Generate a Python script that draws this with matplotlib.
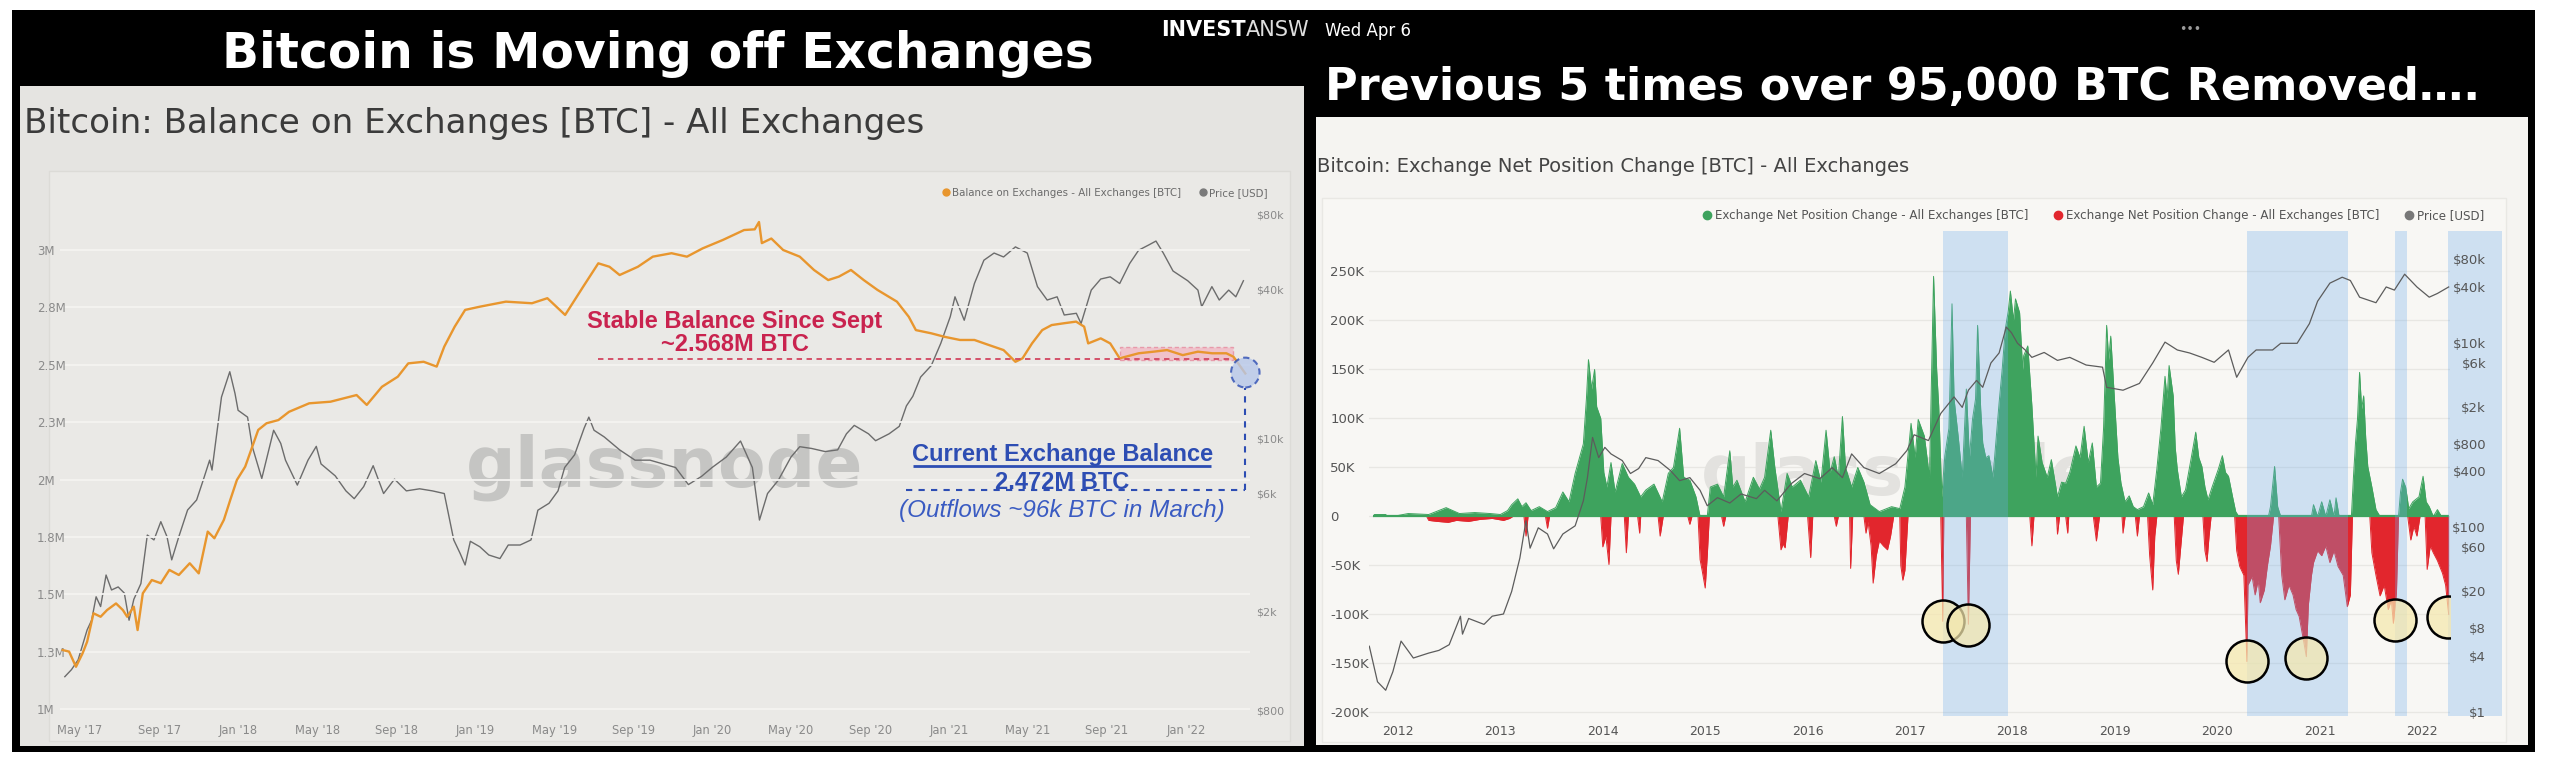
import numpy as np
import matplotlib.pyplot as plt
from matplotlib.patches import Rectangle, Ellipse
from matplotlib.lines import Line2D

# ---------------- left chart: balance on exchanges (M BTC) + price (USD), x = decimal year
balance = [
    (2017.26, 1.257), (2017.287, 1.250), (2017.316, 1.184), (2017.344, 1.243), (2017.363, 1.293),
    (2017.39, 1.417), (2017.42, 1.402), (2017.447, 1.431), (2017.485, 1.46), (2017.514, 1.431),
    (2017.532, 1.402), (2017.56, 1.446), (2017.576, 1.344), (2017.598, 1.504), (2017.636, 1.562),
    (2017.674, 1.548), (2017.71, 1.606), (2017.75, 1.584), (2017.796, 1.635), (2017.834, 1.591),
    (2017.872, 1.773), (2017.9, 1.744), (2017.94, 1.824), (2017.967, 1.911), (2017.995, 1.998),
    (2018.03, 2.056), (2018.04, 2.085), (2018.085, 2.216), (2018.12, 2.245), (2018.17, 2.259),
    (2018.215, 2.295), (2018.30, 2.332), (2018.39, 2.339), (2018.50, 2.368), (2018.543, 2.325),
    (2018.607, 2.404), (2018.674, 2.448), (2018.718, 2.506), (2018.783, 2.513), (2018.838, 2.492),
    (2018.87, 2.579), (2018.914, 2.666), (2018.958, 2.739), (2019.02, 2.753), (2019.13, 2.775),
    (2019.24, 2.768), (2019.305, 2.790), (2019.38, 2.717), (2019.456, 2.840), (2019.52, 2.942),
    (2019.567, 2.927), (2019.61, 2.891), (2019.687, 2.927), (2019.75, 2.971), (2019.829, 2.986),
    (2019.894, 2.971), (2019.96, 3.007), (2020.046, 3.044), (2020.135, 3.087), (2020.18, 3.09),
    (2020.198, 3.122), (2020.21, 3.03), (2020.25, 3.05), (2020.30, 3.0), (2020.37, 2.971),
    (2020.43, 2.913), (2020.49, 2.869), (2020.535, 2.884), (2020.586, 2.913), (2020.64, 2.869),
    (2020.698, 2.826), (2020.78, 2.775), (2020.83, 2.709), (2020.86, 2.651), (2020.925, 2.637),
    (2020.98, 2.622), (2021.046, 2.608), (2021.107, 2.608), (2021.168, 2.586), (2021.23, 2.564),
    (2021.28, 2.513), (2021.31, 2.528), (2021.35, 2.593), (2021.393, 2.651), (2021.433, 2.673),
    (2021.486, 2.681), (2021.536, 2.688), (2021.57, 2.666), (2021.587, 2.593), (2021.64, 2.615),
    (2021.68, 2.593), (2021.72, 2.528), (2021.80, 2.550), (2021.863, 2.557), (2021.92, 2.564),
    (2021.986, 2.542), (2022.05, 2.557), (2022.11, 2.550), (2022.17, 2.550), (2022.20, 2.535),
    (2022.22, 2.506), (2022.25, 2.462),
]

price_left = [
    (2017.269, 1095), (2017.297, 1169), (2017.325, 1280), (2017.363, 1690), (2017.382, 1850),
    (2017.401, 2300), (2017.42, 2100), (2017.443, 2815), (2017.466, 2450), (2017.494, 2520),
    (2017.52, 2380), (2017.54, 1850), (2017.56, 2245), (2017.59, 2600), (2017.617, 4080),
    (2017.645, 3900), (2017.674, 4620), (2017.70, 4020), (2017.72, 3240), (2017.75, 4020),
    (2017.787, 5150), (2017.825, 5650), (2017.853, 6800), (2017.88, 8180), (2017.89, 7460),
    (2017.93, 14700), (2017.965, 18600), (2017.987, 15200), (2018.0, 13000), (2018.04, 12200),
    (2018.06, 9270), (2018.10, 6900), (2018.15, 10800), (2018.18, 9560), (2018.20, 8180),
    (2018.25, 6490), (2018.295, 8180), (2018.33, 9300), (2018.35, 7900), (2018.41, 7070),
    (2018.455, 6150), (2018.49, 5720), (2018.53, 6400), (2018.57, 7770), (2018.614, 6000),
    (2018.66, 6860), (2018.71, 6150), (2018.766, 6270), (2018.82, 6150), (2018.87, 6000),
    (2018.89, 4830), (2018.91, 3900), (2018.937, 3440), (2018.958, 3090), (2018.98, 3850),
    (2019.02, 3660), (2019.058, 3390), (2019.105, 3280), (2019.14, 3720), (2019.19, 3720),
    (2019.236, 3900), (2019.265, 5140), (2019.312, 5480), (2019.35, 6150), (2019.378, 7640),
    (2019.42, 8600), (2019.46, 11000), (2019.48, 12200), (2019.502, 10800), (2019.545, 10150),
    (2019.61, 9000), (2019.675, 8180), (2019.738, 8180), (2019.846, 7640), (2019.9, 6520),
    (2019.955, 7030), (2020.0, 7640), (2020.06, 8420), (2020.12, 9770), (2020.17, 7640),
    (2020.2, 4690), (2020.234, 6000), (2020.28, 6800), (2020.333, 8420), (2020.37, 9270),
    (2020.42, 9120), (2020.477, 8860), (2020.53, 9000), (2020.567, 10450), (2020.6, 11300),
    (2020.66, 10450), (2020.69, 9800), (2020.747, 10450), (2020.79, 11200), (2020.82, 13540),
    (2020.847, 14800), (2020.88, 17700), (2020.925, 19700), (2020.965, 24200), (2021.005, 31000),
    (2021.025, 37300), (2021.064, 30000), (2021.107, 42200), (2021.147, 52400), (2021.19, 56000),
    (2021.23, 54000), (2021.28, 59300), (2021.33, 56000), (2021.373, 41000), (2021.414, 36200),
    (2021.456, 37300), (2021.486, 31500), (2021.537, 32000), (2021.557, 29100), (2021.6, 39700),
    (2021.64, 44000), (2021.68, 44900), (2021.72, 42200), (2021.762, 50800), (2021.80, 57500),
    (2021.843, 60400), (2021.873, 62600), (2021.904, 56000), (2021.945, 47400), (2022.007, 43300),
    (2022.05, 39700), (2022.066, 34000), (2022.109, 41000), (2022.14, 36200), (2022.18, 39700),
    (2022.21, 37300), (2022.242, 43300),
]

left_xticks = [2017 + 4 / 12 + i / 3 for i in range(15)]
left_xlabels = ["May '17", "Sep '17", "Jan '18", "May '18", "Sep '18", "Jan '19", "May '19",
                "Sep '19", "Jan '20", "May '20", "Sep '20", "Jan '21", "May '21", "Sep '21", "Jan '22"]
left_yticks = [1.0, 1.25, 1.5, 1.75, 2.0, 2.25, 2.5, 2.75, 3.0]
left_ylabels = ['1M', '1.3M', '1.5M', '1.8M', '2M', '2.3M', '2.5M', '2.8M', '3M']
left_ptick = [800, 2000, 6000, 10000, 40000, 80000]
left_plabel = ['$800', '$2k', '$6k', '$10k', '$40k', '$80k']

stable_level = 2.525          # where the dashed "stable" line sits
stable_start, stable_box = 2019.52, (2021.72, 2022.20, 2.521, 2.577)

# ---------------- right chart: exchange net position change (K BTC) + price (USD)
inflow = [
    (2011.76, 0), (2011.77, 2), (2011.88, 2), (2011.9, 0), (2012.0, 1), (2012.1, 3), (2012.3, 2),
    (2012.47, 9), (2012.6, 3), (2012.75, 4), (2012.9, 3), (2013.0, 2), (2013.07, 6), (2013.11, 12),
    (2013.17, 18), (2013.21, 10), (2013.25, 14), (2013.30, 6), (2013.38, 10), (2013.46, 5),
    (2013.54, 9), (2013.61, 25), (2013.67, 15), (2013.73, 44), (2013.81, 74), (2013.84, 120),
    (2013.86, 160), (2013.89, 130), (2013.92, 150), (2013.94, 112), (2013.98, 100), (2014.01, 45),
    (2014.04, 30), (2014.08, 55), (2014.12, 25), (2014.19, 54), (2014.25, 40), (2014.31, 33),
    (2014.37, 20), (2014.42, 27), (2014.50, 33), (2014.58, 15), (2014.64, 44), (2014.69, 50),
    (2014.75, 90), (2014.79, 40), (2014.85, 37), (2014.91, 20), (2014.95, 0), (2015.02, 0),
    (2015.05, 30), (2015.12, 33), (2015.18, 20), (2015.24, 67), (2015.27, 30), (2015.31, 37),
    (2015.39, 15), (2015.47, 40), (2015.53, 28), (2015.58, 40), (2015.64, 88), (2015.68, 50),
    (2015.74, 5), (2015.80, 44), (2015.85, 30), (2015.93, 37), (2016.01, 20), (2016.08, 57),
    (2016.13, 35), (2016.18, 88), (2016.22, 45), (2016.26, 61), (2016.30, 40), (2016.34, 102),
    (2016.37, 50), (2016.43, 30), (2016.49, 50), (2016.55, 35), (2016.61, 12), (2016.70, 5),
    (2016.82, 10), (2016.90, 8), (2016.95, 30), (2017.01, 95), (2017.05, 60), (2017.08, 99),
    (2017.14, 82), (2017.19, 40), (2017.23, 245), (2017.26, 150), (2017.28, 113), (2017.31, 20),
    (2017.34, 62), (2017.38, 90), (2017.41, 217), (2017.43, 120), (2017.47, 82), (2017.51, 40),
    (2017.55, 130), (2017.58, 60), (2017.61, 99), (2017.64, 120), (2017.66, 195), (2017.69, 110),
    (2017.71, 75), (2017.74, 60), (2017.77, 62), (2017.81, 40), (2017.87, 116), (2017.90, 150),
    (2017.93, 191), (2017.96, 210), (2017.98, 230), (2018.01, 200), (2018.03, 222), (2018.07, 208),
    (2018.10, 150), (2018.11, 164), (2018.15, 174), (2018.19, 113), (2018.23, 40), (2018.25, 82),
    (2018.29, 55), (2018.34, 40), (2018.38, 58), (2018.44, 20), (2018.48, 35), (2018.52, 34),
    (2018.56, 45), (2018.62, 72), (2018.66, 60), (2018.70, 92), (2018.74, 55), (2018.78, 75),
    (2018.82, 30), (2018.86, 34), (2018.89, 90), (2018.92, 195), (2018.94, 160), (2018.96, 184),
    (2019.00, 113), (2019.03, 60), (2019.06, 34), (2019.10, 15), (2019.14, 21), (2019.18, 10),
    (2019.22, 7), (2019.28, 10), (2019.33, 24), (2019.37, 12), (2019.41, 48), (2019.45, 90),
    (2019.49, 143), (2019.51, 120), (2019.53, 154), (2019.57, 123), (2019.59, 70), (2019.61, 48),
    (2019.65, 20), (2019.69, 27), (2019.73, 50), (2019.75, 62), (2019.79, 86), (2019.82, 60),
    (2019.85, 51), (2019.88, 30), (2019.91, 17), (2019.95, 30), (2020.01, 48), (2020.05, 62),
    (2020.08, 45), (2020.11, 41), (2020.15, 20), (2020.18, 5), (2020.21, 0), (2020.50, 0),
    (2020.52, 10), (2020.56, 51), (2020.59, 10), (2020.62, 0), (2020.92, 0), (2020.94, 12),
    (2020.98, 0), (2021.02, 15), (2021.06, 0), (2021.10, 17), (2021.14, 0), (2021.16, 19),
    (2021.19, 0), (2021.31, 0), (2021.33, 40), (2021.35, 75), (2021.37, 100), (2021.39, 147),
    (2021.41, 110), (2021.43, 123), (2021.45, 80), (2021.47, 51), (2021.51, 30), (2021.55, 7),
    (2021.59, 0), (2021.77, 0), (2021.79, 25), (2021.81, 38), (2021.84, 30), (2021.87, 8),
    (2021.91, 15), (2021.97, 20), (2022.01, 41), (2022.04, 15), (2022.07, 10), (2022.11, 0),
    (2022.15, 7), (2022.19, 0), (2022.26, 0),
]

outflow = [
    (2012.28, 0), (2012.30, -4), (2012.38, -5), (2012.49, -6), (2012.57, -4), (2012.69, -5),
    (2012.80, -3), (2012.92, -2), (2013.03, -4), (2013.09, -2), (2013.12, 0), (2013.23, 0),
    (2013.25, -20), (2013.27, 0), (2013.44, 0), (2013.46, -12), (2013.48, 0), (2013.98, 0),
    (2014.00, -31), (2014.03, -20), (2014.06, -49), (2014.08, 0), (2014.21, 0), (2014.23, -37),
    (2014.25, 0), (2014.34, 0), (2014.36, -17), (2014.37, 0), (2014.54, 0), (2014.56, -20),
    (2014.59, 0), (2014.83, 0), (2014.85, -8), (2014.87, 0), (2014.93, 0), (2014.95, -44),
    (2014.97, -55), (2015.00, -73), (2015.02, -40), (2015.04, 0), (2015.16, 0), (2015.18, -10),
    (2015.20, 0), (2015.71, 0), (2015.74, -34), (2015.76, -28), (2015.78, -32), (2015.81, 0),
    (2016.00, 0), (2016.03, -42), (2016.05, 0), (2016.26, 0), (2016.28, -10), (2016.30, 0),
    (2016.41, 0), (2016.42, -53), (2016.44, 0), (2016.55, 0), (2016.57, -17), (2016.59, -5),
    (2016.62, -30), (2016.64, -68), (2016.67, -40), (2016.70, -25), (2016.74, -30), (2016.78, -34),
    (2016.81, -20), (2016.84, 0), (2016.90, 0), (2016.91, -50), (2016.93, -65), (2016.95, -55),
    (2016.98, 0), (2017.30, 0), (2017.32, -107), (2017.33, 0), (2017.55, 0), (2017.57, -110),
    (2017.59, 0), (2018.17, 0), (2018.19, -30), (2018.21, 0), (2018.43, 0), (2018.44, -18),
    (2018.46, 0), (2018.52, 0), (2018.54, -17), (2018.55, 0), (2018.79, 0), (2018.82, -25),
    (2018.85, 0), (2019.07, 0), (2019.08, -17), (2019.10, 0), (2019.20, 0), (2019.22, -20),
    (2019.24, 0), (2019.32, 0), (2019.34, -40), (2019.37, -75), (2019.39, -20), (2019.41, 0),
    (2019.58, 0), (2019.60, -45), (2019.62, -59), (2019.64, -35), (2019.67, 0), (2019.86, 0),
    (2019.88, -35), (2019.90, -46), (2019.92, -20), (2019.94, 0), (2020.17, 0), (2020.19, -35),
    (2020.22, -51), (2020.26, -60), (2020.29, -148), (2020.30, -70), (2020.34, -61), (2020.37, -80),
    (2020.40, -65), (2020.42, -88), (2020.46, -75), (2020.49, -50), (2020.52, -30), (2020.55, 0),
    (2020.60, 0), (2020.63, -60), (2020.66, -85), (2020.70, -70), (2020.74, -80), (2020.77, -95),
    (2020.80, -102), (2020.84, -125), (2020.87, -143), (2020.89, -90), (2020.92, -60), (2020.94, -47),
    (2020.98, -35), (2021.02, -40), (2021.06, -30), (2021.10, -47), (2021.14, -35), (2021.18, -51),
    (2021.23, -60), (2021.27, -92), (2021.30, -80), (2021.32, 0), (2021.49, 0), (2021.51, -37),
    (2021.55, -60), (2021.59, -81), (2021.63, -70), (2021.67, -95), (2021.70, -85), (2021.72, -109),
    (2021.75, -78), (2021.77, 0), (2021.86, 0), (2021.89, -24), (2021.92, -10), (2021.95, -20),
    (2021.98, 0), (2022.03, 0), (2022.05, -54), (2022.08, -30), (2022.11, -37), (2022.15, -45),
    (2022.20, -58), (2022.23, -70), (2022.26, -100),
]

price_right = [
    (2011.72, 5.1), (2011.80, 2.1), (2011.88, 1.7), (2011.95, 2.7), (2012.03, 5.8), (2012.09, 4.7),
    (2012.15, 3.8), (2012.3, 4.3), (2012.4, 4.6), (2012.5, 5.3), (2012.61, 10.8), (2012.63, 6.9),
    (2012.69, 10.2), (2012.84, 8.8), (2012.92, 10.8), (2013.03, 11.4), (2013.11, 20), (2013.19, 46),
    (2013.25, 117), (2013.29, 59), (2013.37, 98), (2013.46, 84), (2013.52, 58), (2013.61, 84),
    (2013.73, 103), (2013.81, 192), (2013.85, 343), (2013.90, 935), (2013.96, 565), (2014.02, 730),
    (2014.08, 620), (2014.19, 525), (2014.27, 380), (2014.35, 430), (2014.42, 565), (2014.54, 525),
    (2014.66, 410), (2014.75, 318), (2014.85, 343), (2014.95, 250), (2015.02, 170), (2015.12, 208),
    (2015.24, 182), (2015.35, 228), (2015.50, 203), (2015.58, 250), (2015.70, 192), (2015.84, 295),
    (2015.97, 380), (2016.12, 334), (2016.24, 440), (2016.34, 343), (2016.43, 620), (2016.55, 440),
    (2016.70, 380), (2016.86, 485), (2016.97, 675), (2017.04, 1000), (2017.18, 865), (2017.30, 1700),
    (2017.43, 2570), (2017.51, 1980), (2017.57, 3040), (2017.65, 3880), (2017.71, 3270),
    (2017.79, 6000), (2017.87, 7700), (2017.94, 14700), (2017.99, 12800), (2018.05, 9800),
    (2018.13, 8200), (2018.19, 6900), (2018.31, 7800), (2018.44, 6400), (2018.56, 6900),
    (2018.72, 5700), (2018.88, 5400), (2018.92, 3270), (2019.08, 3040), (2019.24, 3600),
    (2019.37, 6000), (2019.49, 10100), (2019.61, 8300), (2019.73, 7700), (2019.85, 6900),
    (2019.97, 6100), (2020.11, 8300), (2020.19, 4200), (2020.30, 6900), (2020.38, 8300),
    (2020.54, 8300), (2020.62, 9800), (2020.78, 9800), (2020.90, 16000), (2020.98, 28000),
    (2021.10, 44000), (2021.22, 51000), (2021.30, 47000), (2021.39, 31000), (2021.55, 27000),
    (2021.65, 40000), (2021.73, 37000), (2021.83, 55000), (2021.95, 40000), (2022.07, 31000),
    (2022.15, 34000), (2022.26, 40000),
]

# big outflow events that are ringed on the chart
circle_t = [2017.32, 2017.57, 2020.29, 2020.87, 2021.74, 2022.25]
circle_k = [-107, -111, -147, -144, -106, -103]
band_start = [2017.32, 2020.29, 2021.74, 2022.25]
band_end = [2017.96, 2021.28, 2021.85, 2022.78]

right_years = list(range(2012, 2023))
right_yticks = [-200, -150, -100, -50, 0, 50, 100, 150, 200, 250]
right_ylabels = ['-200K', '-150K', '-100K', '-50K', '0', '50K', '100K', '150K', '200K', '250K']
right_ptick = [1, 4, 8, 20, 60, 100, 400, 800, 2000, 6000, 10000, 40000, 80000]
right_plabel = ['$1', '$4', '$8', '$20', '$60', '$100', '$400', '$800', '$2k', '$6k',
                '$10k', '$40k', '$80k']

ORANGE, GREY = '#e8962e', '#6c6c6c'
GREEN, RED = '#3ea35e', '#e2262d'
CRIMSON, BLUE = '#c9234f', '#2d4db3'

W, H, DPI = 2549, 766, 100
fig = plt.figure(figsize=(W / DPI, H / DPI), dpi=DPI, facecolor='white')


def box(x0, y0, x1, y1):
    # pixel box (top-left origin) -> figure fraction rect
    return [x0 / W, 1 - y1 / H, (x1 - x0) / W, (y1 - y0) / H]


def panel(x0, y0, x1, y1, fc, z, ec='none'):
    fig.add_artist(Rectangle((x0 / W, 1 - y1 / H), (x1 - x0) / W, (y1 - y0) / H,
                             transform=fig.transFigure, facecolor=fc, edgecolor=ec,
                             lw=1, zorder=z))


# backgrounds
panel(12, 10, 1312, 752, 'black', -10)
panel(20, 86, 1304, 746, '#e5e4e1', -9)
panel(49, 171, 1290, 741, '#eae9e6', -8, ec='#dcdbd7')
fig.text(1161 / W, 1 - 36 / H, 'INVEST', color='white', fontsize=15, fontweight='bold',
         va='baseline', zorder=-7)
fig.text(1246 / W, 1 - 36 / H, 'ANSW', color='#dedede', fontsize=15, va='baseline', zorder=-7)
panel(1308, 10, 2535, 752, 'black', -6)
panel(1316, 117, 2528, 745, '#f5f4f1', -5)
panel(1322, 198, 2506, 742, '#f8f7f4', -4, ec='#e9e8e4')

fig.text(658 / W, 1 - 68 / H, 'Bitcoin is Moving off Exchanges', color='white', fontsize=35,
         fontweight='bold', ha='center', va='baseline')
fig.text(1325 / W, 1 - 100 / H, 'Previous 5 times over 95,000 BTC Removed\u2026.', color='white',
         fontsize=32, fontweight='bold', ha='left', va='baseline')
fig.text(1325 / W, 1 - 36 / H, 'Wed Apr 6', color='white', fontsize=12, va='baseline')
fig.text(2190 / W, 1 - 30 / H, '\u2022\u2022\u2022', color='#9a9a9a', fontsize=9,
         ha='center', va='center')
fig.text(24 / W, 1 - 133 / H, 'Bitcoin: Balance on Exchanges [BTC] - All Exchanges',
         color='#3b3b3b', fontsize=24.6, va='baseline')
fig.text(1317 / W, 1 - 172 / H, 'Bitcoin: Exchange Net Position Change [BTC] - All Exchanges',
         color='#444444', fontsize=14, va='baseline')

# ---------------- left chart
bt, bv = np.array(balance).T
plt_t, plt_v = np.array(price_left).T

ax1 = fig.add_axes(box(60, 200, 1250, 718))
ax1b = ax1.twinx()
ax1.set_zorder(ax1b.get_zorder() + 1)
for a in (ax1, ax1b):
    a.patch.set_visible(False)
    for s in a.spines.values():
        s.set_visible(False)

ax1.set_xlim(2017.2486, 2022.2698)
ax1.set_ylim(0.9608, 3.2179)
ax1b.set_yscale('log')
ax1b.set_ylim(746, 91660)

ax1b.text(0.508, 0.485, 'glassnode', transform=ax1b.transAxes, fontsize=50, fontweight='bold',
          color='#c5c5c3', ha='center', va='center', zorder=0)
ax1b.plot(plt_t, plt_v, color=GREY, lw=1.0, zorder=2)
ax1.plot(bt, bv, color=ORANGE, lw=1.7, zorder=3)

ax1.set_xticks(left_xticks)
ax1.set_xticklabels(left_xlabels)
ax1.set_yticks(left_yticks)
ax1.set_yticklabels(left_ylabels)
ax1.tick_params(axis='x', length=0, pad=4.5, labelsize=8.3, labelcolor='#8a8a8a')
ax1.tick_params(axis='y', length=0, pad=16.5, labelsize=8.5, labelcolor='#8a8a8a')
for lab in ax1.get_yticklabels():
    lab.set_ha('left')
ax1.grid(axis='y', color='#f4f3f1', lw=1.3)
ax1.set_axisbelow(True)
ax1b.yaxis.set_major_locator(plt.FixedLocator(left_ptick))
ax1b.yaxis.set_minor_locator(plt.NullLocator())
ax1b.set_yticklabels(left_plabel)
ax1b.tick_params(axis='y', length=0, pad=4.3, labelsize=8, labelcolor='#8a8a8a')

# stable balance annotation
x0b, x1b, y0b, y1b = stable_box
ax1.add_patch(Rectangle((x0b, y0b), x1b - x0b, y1b - y0b, facecolor='#f3b6c2', alpha=0.75,
                        edgecolor='#e5879b', lw=1, ls=(0, (3, 2)), zorder=2))
ax1.hlines(stable_level, stable_start, x1b, colors='#d2455f', lw=1.3, linestyles=(0, (3, 2.5)),
           zorder=4)
ax1.text(2020.097, 2.658, 'Stable Balance Since Sept', color=CRIMSON, fontsize=17,
         fontweight='bold', family=['Liberation Sans', 'DejaVu Sans'], ha='center', va='baseline')
ax1.text(2020.097, 2.558, '~2.568M BTC', color=CRIMSON, fontsize=17, fontweight='bold',
         family=['Liberation Sans', 'DejaVu Sans'], ha='center', va='baseline')

# current balance annotation
end_t, end_v = bt[-1], bv[-1]
ax1.add_patch(Ellipse((end_t, end_v + 0.004), 0.12, 0.13, facecolor='#b7c8ea', alpha=0.8,
                      edgecolor=BLUE, lw=1.5, ls=(0, (3, 2)), zorder=5, clip_on=False))
ax1.vlines(end_t, 1.954, end_v - 0.063, colors=BLUE, lw=1.5, linestyles=(0, (3, 3)), zorder=4)
ax1.hlines(1.954, 2020.818, end_t, colors=BLUE, lw=1.5, linestyles=(0, (3, 3)), zorder=4)
ax1.text(2021.477, 2.0794, 'Current Exchange Balance', color=BLUE, fontsize=17,
         fontweight='bold', family=['Liberation Sans', 'DejaVu Sans'], ha='center', va='baseline')
ax1.hlines(2.059, 2020.848, 2022.106, colors=BLUE, lw=2, zorder=4)
ax1.text(2021.477, 1.9608, '2.472M BTC', color=BLUE, fontsize=17, fontweight='bold',
         family=['Liberation Sans', 'DejaVu Sans'], ha='center', va='baseline')
ax1.text(2021.477, 1.838, '(Outflows ~96k BTC in March)', color='#3a5bc2', fontsize=17.5,
         style='italic', family=['Liberation Sans', 'DejaVu Sans'], ha='center', va='baseline')

h1 = [Line2D([], [], marker='o', ls='none', color=ORANGE, markersize=5,
             label='Balance on Exchanges - All Exchanges [BTC]'),
      Line2D([], [], marker='o', ls='none', color='#7a7a7a', markersize=5, label='Price [USD]')]
ax1.legend(handles=h1, loc='lower right', bbox_to_anchor=(1.015, 1.004), ncol=2, frameon=False,
           fontsize=7.4, labelcolor='#6b6b6b', handletextpad=0.1, handlelength=1.0,
           columnspacing=1.6, borderpad=0, borderaxespad=0)

# ---------------- right chart
it, iv = np.array(inflow).T
ot, ov = np.array(outflow).T
prt, prv = np.array(price_right).T

ax2 = fig.add_axes(box(1369, 231, 2450, 716))
ax2b = ax2.twinx()
for a in (ax2, ax2b):
    a.patch.set_visible(False)
    for s in a.spines.values():
        s.set_visible(False)
ax2.set_xlim(2011.717, 2022.273)
ax2.set_ylim(-203.6, 291.3)
ax2b.set_yscale('log')
ax2b.set_ylim(0.894, 161700)

ax2.text(0.491, 0.497, 'glassnode', transform=ax2.transAxes, fontsize=50, fontweight='bold',
         color='#e3e2df', ha='center', va='center', zorder=1)
ax2.fill_between(it, 0, iv, color=GREEN, lw=0, zorder=2)
ax2.plot(it, iv, color=GREEN, lw=0.7, zorder=2)
ax2.fill_between(ot, 0, ov, color=RED, lw=0, zorder=2)
ax2.plot(ot, ov, color=RED, lw=0.7, zorder=2)
ax2.hlines(0, it[0], it[-1], colors=GREEN, lw=1.6, zorder=3)
for s, e in zip(band_start, band_end):
    ax2.axvspan(s, e, color='#6fadec', alpha=0.3, lw=0, zorder=4, clip_on=False)
ax2.scatter(circle_t, circle_k, s=914, facecolor=(0.96, 0.91, 0.68, 0.72), edgecolor='black',
            lw=1.8, zorder=6)
ax2b.plot(prt, prv, color='#5c5c5c', lw=0.9, zorder=3)

ax2.set_xticks(right_years)
ax2.set_xticklabels([str(y) for y in right_years])
ax2.set_yticks(right_yticks)
ax2.set_yticklabels(right_ylabels)
ax2.tick_params(axis='x', length=0, pad=6.5, labelsize=9, labelcolor='#555555')
ax2.tick_params(axis='y', length=0, pad=28, labelsize=9.5, labelcolor='#555555')
for lab in ax2.get_yticklabels():
    lab.set_ha('left')
ax2.grid(axis='y', color='#e8e7e3', lw=0.9)
ax2.set_axisbelow(True)
ax2b.yaxis.set_major_locator(plt.FixedLocator(right_ptick))
ax2b.yaxis.set_minor_locator(plt.NullLocator())
ax2b.set_yticklabels(right_plabel)
ax2b.tick_params(axis='y', length=0, pad=26, labelsize=9.5, labelcolor='#555555')
for lab in ax2b.get_yticklabels():
    lab.set_ha('right')

lbl = 'Exchange Net Position Change - All Exchanges [BTC]'
h2 = [Line2D([], [], marker='o', ls='none', color=GREEN, markersize=6, label=lbl),
      Line2D([], [], marker='o', ls='none', color=RED, markersize=6, label=lbl),
      Line2D([], [], marker='o', ls='none', color='#777777', markersize=6, label='Price [USD]')]
ax2b.legend(handles=h2, loc='center right', bbox_to_anchor=(1.0315, 1.031), ncol=3,
            frameon=False, fontsize=8.6, labelcolor='#555555', handletextpad=0.15,
            handlelength=1.0, columnspacing=2.0, borderpad=0, borderaxespad=0)

fig.savefig('out.png', dpi=DPI, facecolor='white')
